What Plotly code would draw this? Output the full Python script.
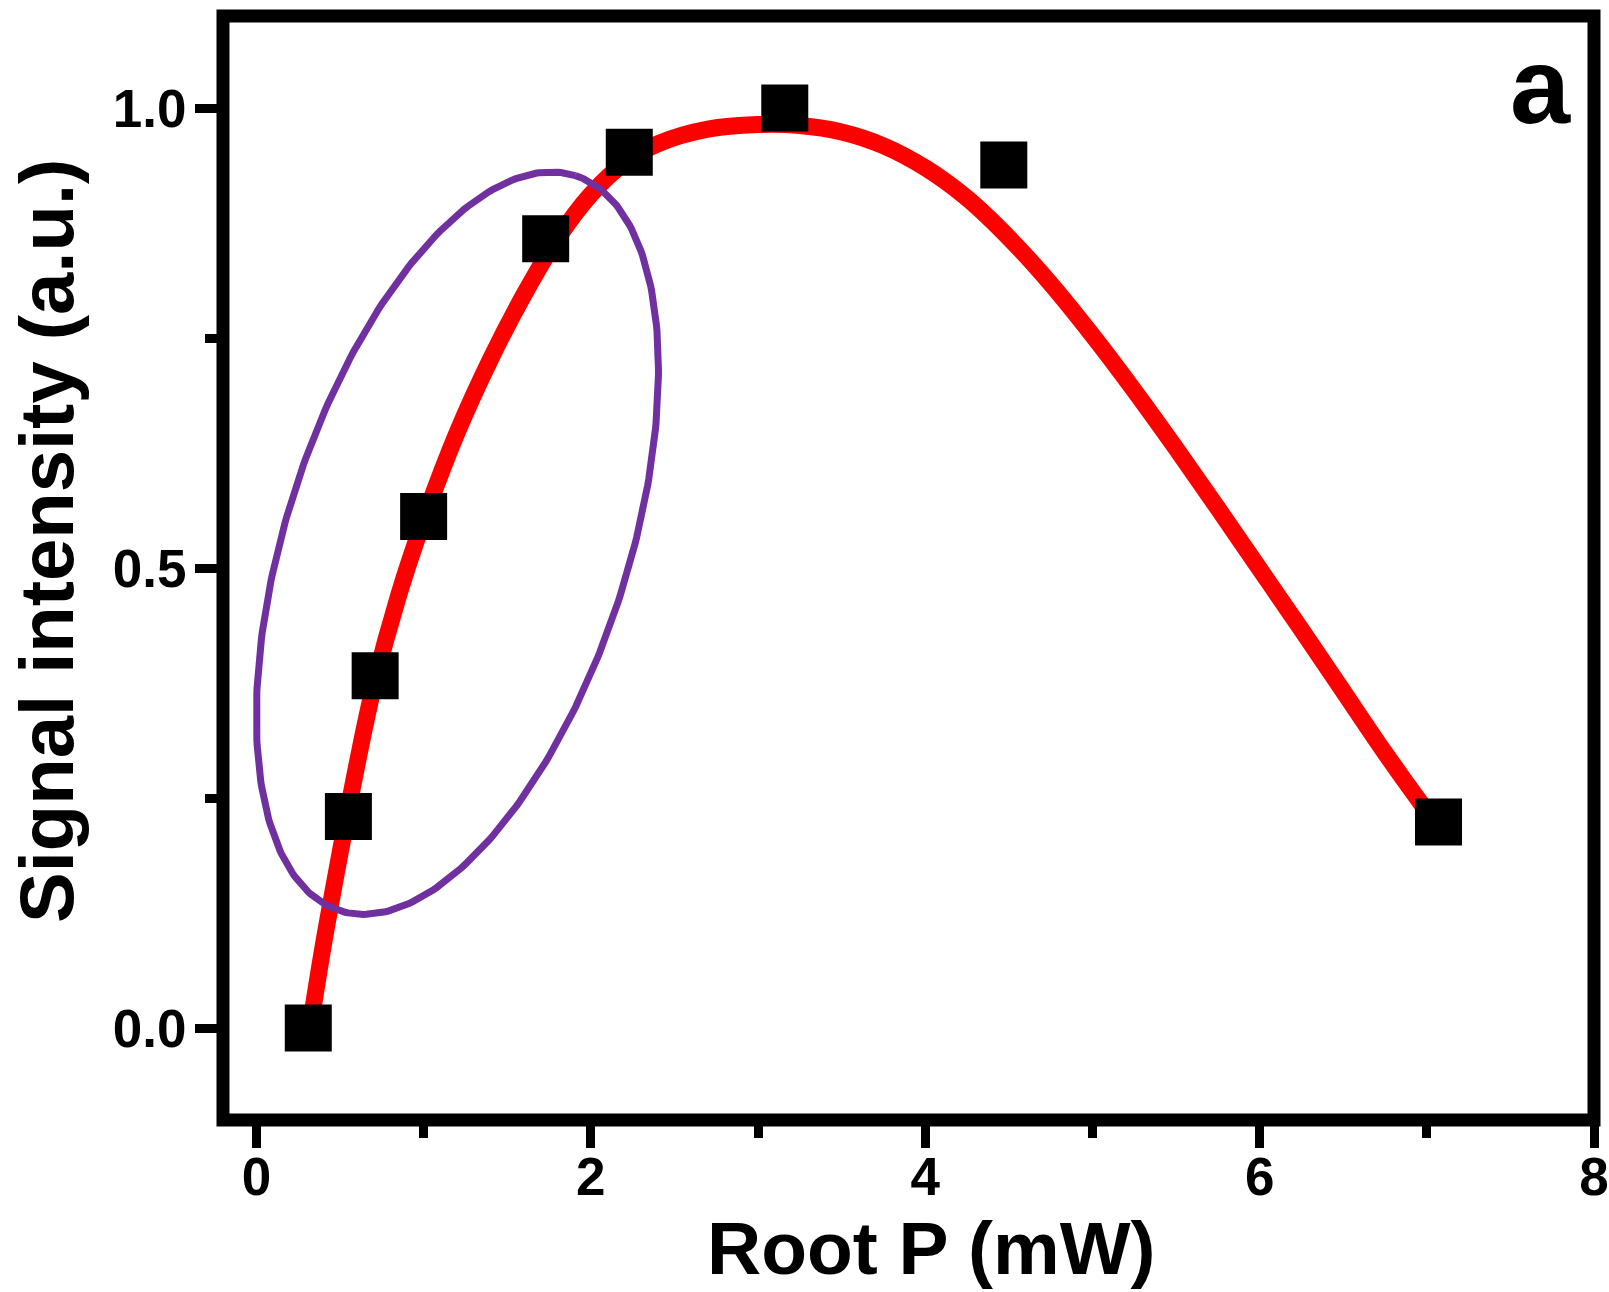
import numpy as np
import plotly.graph_objects as go

# ---------------- data ----------------
root_p = [0.31, 0.55, 0.71, 1.00, 1.73, 2.23, 3.16, 4.47, 7.07]
signal = [0.00, 0.23, 0.383, 0.556, 0.858, 0.952, 1.00, 0.938, 0.224]

fit_x = [0.32, 0.40, 0.50, 0.60, 0.70, 0.85, 1.00, 1.20, 1.40, 1.60, 1.80,
         2.00, 2.20, 2.40, 2.70, 3.00, 3.25, 3.50, 3.75, 4.00, 4.25, 4.50,
         4.75, 5.00, 5.25, 5.50, 5.75, 6.00, 6.25, 6.50, 6.75, 7.07]
fit_y = [0.000, 0.090, 0.190, 0.285, 0.370, 0.470, 0.552, 0.647, 0.727, 0.797, 0.858,
         0.906, 0.940, 0.961, 0.977, 0.982, 0.981, 0.974, 0.959, 0.935, 0.902, 0.859,
         0.809, 0.753, 0.693, 0.630, 0.565, 0.499, 0.433, 0.366, 0.299, 0.218]

x_ticks = [0, 2, 4, 6, 8]
y_ticks = [0.0, 0.5, 1.0]

x_title = "Root P (mW)"
y_title = "Signal intensity (a.u.)"
panel_label = "a"

# ---------------- layout geometry ----------------
W, H = 1609, 1292
ML, MR, MT, MB = 223, 15, 16, 172
x_range = [-0.2, 8.0]
y_range = [-0.1, 1.1]
plot_w = W - ML - MR
plot_h = H - MT - MB
px_per_x = plot_w / (x_range[1] - x_range[0])
px_per_y = plot_h / (y_range[1] - y_range[0])

# ellipse annotation (center in data units, semi-axes in pixels, tilt in degrees)
ell_cx, ell_cy = 1.202, 0.527
ell_a, ell_b, ell_deg = 386, 171, 72.2
t = np.linspace(0, 2 * np.pi, 361)
th = np.deg2rad(ell_deg)
ex_px = ell_a * np.cos(th) * np.cos(t) - ell_b * np.sin(th) * np.sin(t)
ey_px = ell_a * np.sin(th) * np.cos(t) + ell_b * np.cos(th) * np.sin(t)
ell_x = ell_cx + ex_px / px_per_x
ell_y = ell_cy + ey_px / px_per_y

FONT = "Liberation Sans, Arial, sans-serif"

fig = go.Figure()
fig.add_trace(go.Scatter(x=fit_x, y=fit_y, mode="lines",
                         line=dict(color="#FF0000", width=17, shape="spline", smoothing=1.0),
                         hoverinfo="skip", showlegend=False))
fig.add_trace(go.Scatter(x=ell_x, y=ell_y, mode="lines",
                         line=dict(color="#7030A0", width=7),
                         hoverinfo="skip", showlegend=False))
fig.add_trace(go.Scatter(x=root_p, y=signal, mode="markers",
                         marker=dict(symbol="square", size=47, color="black", line=dict(width=0)),
                         showlegend=False))

tickfont = dict(family=FONT, size=53, color="black", weight="bold")
common = dict(showgrid=False, zeroline=False, showline=False, ticks="outside",
              ticklen=27, tickwidth=9, tickcolor="black", tickfont=tickfont,
              automargin=False)

fig.update_xaxes(range=x_range, tickvals=x_ticks, ticktext=[str(v) for v in x_ticks],
                 ticklabelstandoff=-17,
                 minor=dict(dtick=1, tick0=0, ticks="outside", ticklen=17, tickwidth=9,
                            tickcolor="black", showgrid=False),
                 **common)
fig.update_yaxes(range=y_range, tickvals=y_ticks, ticktext=[f"{v:.1f}" for v in y_ticks],
                 ticklabelstandoff=-2,
                 minor=dict(dtick=0.25, tick0=0, ticks="outside", ticklen=17, tickwidth=9,
                            tickcolor="black", showgrid=False),
                 **common)

fig.add_shape(type="rect", xref="paper", yref="paper", x0=0, x1=1, y0=0, y1=1,
              line=dict(color="black", width=13), layer="above")

def px_to_paper_x(px):
    return (px - ML) / plot_w

def px_to_paper_y(py):
    return (H - MB - py) / plot_h

fig.add_annotation(text=x_title, xref="paper", yref="paper",
                   x=px_to_paper_x(931), y=px_to_paper_y(1248),
                   xanchor="center", yanchor="middle", showarrow=False,
                   font=dict(family=FONT, size=75, color="black", weight="bold"))
fig.add_annotation(text=y_title, xref="paper", yref="paper",
                   x=px_to_paper_x(47), y=px_to_paper_y(541), textangle=-90,
                   xanchor="center", yanchor="middle", showarrow=False,
                   font=dict(family=FONT, size=76, color="black", weight="bold"))
fig.add_annotation(text=panel_label, xref="paper", yref="paper",
                   x=px_to_paper_x(1540), y=px_to_paper_y(86),
                   xanchor="center", yanchor="middle", showarrow=False,
                   font=dict(family=FONT, size=108, color="black", weight="bold"))

fig.update_layout(width=W, height=H, autosize=False,
                  margin=dict(l=ML, r=MR, t=MT, b=MB, pad=0, autoexpand=False),
                  paper_bgcolor="white", plot_bgcolor="white",
                  showlegend=False)

fig.write_html("out.html")
